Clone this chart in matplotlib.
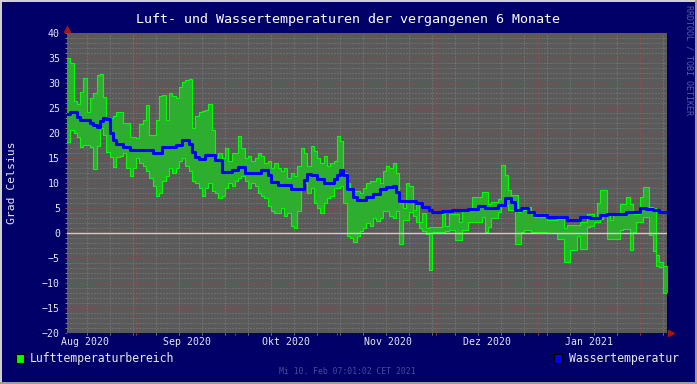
import numpy as np
import matplotlib.pyplot as plt
import matplotlib.dates as mdates
import matplotlib.transforms as mtransforms
from matplotlib.patches import Rectangle
from datetime import datetime, timedelta

# daily values, one per day starting 11 Aug 2020
max_aug = [35, 34, 26.5, 25.8, 28.3, 31, 24.3, 27, 28, 31.6, 31.8, 27.3, 23, 23, 23.4, 24.3, 24.3, 22, 22, 19.2, 19.2]
min_aug = [18.3, 20.7, 20, 19.2, 17.3, 17.6, 17.6, 17.3, 12.8, 17.5, 21, 19.6, 16.3, 15.3, 13.3, 15.3, 15.5, 16, 13, 11.5, 13]
wat_aug = [23.9, 24.2, 24.2, 23.3, 22.6, 22.6, 22.6, 22.1, 21.6, 21.3, 22.5, 23, 22.8, 20, 18.6, 17.9, 17.9, 17.3, 17.3, 16.6, 16.6]

max_sep = [19, 21.8, 22.6, 25.6, 19.6, 19.6, 22.6, 27.5, 27.6, 22.6, 28, 27.5, 27, 29.3, 30.3, 30.6, 30.8, 21, 23.5, 24.3,
           24.5, 24.6, 25.8, 20.6, 15.3, 16, 15, 17, 14.5, 16]
min_sep = [15, 14, 13.5, 12.5, 11, 9.5, 7.5, 8, 10.5, 11.5, 13, 12, 13, 14.5, 15, 13.5, 12.5, 10.5, 10, 9,
           7.5, 9, 10, 8.5, 8, 7, 7.5, 9, 10, 9.5]
wat_sep = [16.6, 16.6, 16.6, 16.6, 16.6, 16, 16, 16, 17.3, 17.3, 17.2, 17.2, 17.6, 17.6, 18.6, 18.6, 17.9, 16.3, 15.3, 14.9,
           14.9, 15.7, 15.7, 15.7, 14.6, 14.6, 12.3, 12.3, 12.3, 12.7]

max_okt = [16, 19.5, 17, 15, 15.5, 14.5, 15, 16, 15.5, 14, 14.5, 13, 14, 13, 12.5, 13, 11, 12, 11.5, 13.5,
           17, 16, 13.5, 17.5, 16.5, 15, 14, 15.5, 13.5, 14, 14.5]
min_okt = [10.5, 11, 11.5, 10.5, 9, 10, 9.5, 8, 7.5, 7, 5.5, 4.5, 4, 4, 5, 3.5, 4, 1.5, 1, 4.5,
           9, 10, 8, 9, 6, 5, 4, 6, 7, 7.5, 9]
wat_okt = [12.7, 13.3, 13.3, 12.1, 12.1, 12, 12, 12, 12.6, 12.6, 11.6, 10.3, 10.3, 9.6, 9.6, 9.6, 9.6, 8.9, 8.9, 8.9,
           8.9, 10.6, 11.9, 11.6, 11.6, 10.9, 10.9, 10.1, 10.1, 10.1, 10.9]

max_nov = [19.5, 18.5, 12, 10, 9, 8.5, 8.5, 8, 9, 10, 10.5, 10.5, 11, 10, 12.5, 13.5, 13, 14, 12, 6,
           5, 10, 9.5, 4.6, 6.3, 2.3, 4, 1.1, 1.2, 1.3]
min_nov = [9, 9.5, 6, -0.5, -1, -1.7, -0.5, 0.5, 1, 2, 1.5, 3, 2.5, 3, 4.5, 4.5, 3.5, 3, 4.5, -2.1,
           2.6, 2.6, 4.3, 3.5, 2.3, 1, 0.5, -0.1, -7.4, 0.3]
wat_nov = [11.6, 12.6, 11.6, 8.9, 8.9, 7.3, 6.6, 6.6, 6.6, 7.3, 7.3, 7.9, 7.9, 8.9, 8.9, 9.3, 9.3, 9.5, 8.3, 6.5,
           6.5, 6.5, 6.5, 6.5, 6.0, 6.0, 5.3, 5.3, 4.7, 4.3]

max_dez = [1.3, 1.3, 3.9, 1.5, 3.9, 3.9, 3.9, 2.3, 4.6, 4.6, 4.6, 7.3, 7.3, 7.3, 8.3, 8.3, 5.9, 6.3, 6.3, 6.8,
           13.6, 11.6, 8.6, 7.6, 7.6, 4.3, 4.6, 4.6, 5.3, 3.9, 3.3]
min_dez = [0.3, 0.3, 0.3, 0.5, 0.6, 0.6, -1.4, -1.4, 0.6, 0.6, 2.3, 2.3, 2.3, 2.3, 3.3, 0.3, 1.3, 3, 3, 4.3,
           5.6, 5.6, 4.6, 4.6, -2.1, -2.1, 0.3, 0.6, 0.6, 0.3, 0.3]
wat_dez = [4.3, 4.3, 4.5, 4.5, 4.5, 4.7, 4.7, 4.7, 4.7, 4.7, 4.9, 4.9, 4.9, 5.4, 5.4, 5.1, 5.1, 5.1, 5.1, 5.6,
           5.6, 7.1, 7.1, 6.3, 4.6, 4.6, 5.1, 5.1, 4.3, 4.3, 3.6]

max_jan = [3.3, 3.3, 3.3, 2.6, 2.6, 2.6, 2.9, 2.9, 1, 1.6, 1.6, 1.6, 1.6, 2.3, 2.3, 3.9, 3.9, 3.3, 6, 8.6,
           8.6, 3.9, 2.6, 3.9, 3.9, 5.9, 5.9, 7.3, 5.9, 3.9, 3.9]
min_jan = [0.3, 0.3, 0.3, 0, 0, 0, -1.1, -1.1, -5.7, -5.7, -3.4, -3.4, -0.6, -3.1, -3.1, 1.3, 1.5, 2.3, 2.3, 2.9,
           3.9, -1.1, -1.1, -1.1, -1.1, 0.6, 0.9, 0.9, -3.4, 0.3, 2.3]
wat_jan = [3.6, 3.6, 3.6, 3.3, 3.3, 3.3, 3.3, 3.3, 3.3, 2.6, 2.6, 2.6, 2.6, 3.3, 3.3, 3.3, 3.0, 3.0, 3.0, 3.6,
           3.6, 3.8, 3.8, 3.9, 3.9, 3.9, 3.9, 4.3, 4.3, 4.3, 4.3]

max_feb = [7.3, 9.3, 9.3, 5.3, 5, -4.4, -5.7, -6.5, -6.5]
min_feb = [2.3, 3.3, 3.3, -0.4, -3.5, -6.5, -6.7, -12, -12]
wat_feb = [5.1, 5.1, 4.9, 4.9, 4.6, 4.6, 4.2, 4.2, 4.2]

month_labels = ["Aug 2020", "Sep 2020", "Okt 2020", "Nov 2020", "Dez 2020", "Jan 2021"]

tmax = np.array(max_aug + max_sep + max_okt + max_nov + max_dez + max_jan + max_feb)
tmin = np.array(min_aug + min_sep + min_okt + min_nov + min_dez + min_jan + min_feb)
twat = np.array(wat_aug + wat_sep + wat_okt + wat_nov + wat_dez + wat_jan + wat_feb)

start = datetime(2020, 8, 11)
edges = [start + timedelta(days=k) for k in range(len(tmax) + 1)]
ymax = np.append(tmax, tmax[-1])
ymin = np.append(tmin, tmin[-1])
ywat = np.append(twat, twat[-1])

navy = '#000068'
txt = '#e8e8f4'
plt.rcParams['font.family'] = 'DejaVu Sans Mono'

fig = plt.figure(figsize=(6.97, 3.84), dpi=100)
fig.patch.set_facecolor(navy)
W, H = 697, 384
ax = fig.add_axes([67 / W, 51 / H, 600 / W, 300 / H])
ax.set_facecolor('#5a5a5a')

ax.fill_between(edges, ymin, ymax, step='post', color='#2eae2e', lw=0, zorder=2)
ax.step(edges, ymax, where='post', color='#00ff00', lw=0.8, zorder=3)
ax.step(edges, ymin, where='post', color='#00ff00', lw=0.8, zorder=3)
ax.axhline(0, color='#dcc8c8', lw=1, zorder=4)
ax.step(edges, ywat, where='post', color='#0000ff', lw=2.2, zorder=5)

ax.set_xlim(start, datetime(2021, 2, 9, 8, 0))
ax.set_ylim(-20, 40)
ax.yaxis.set_major_locator(plt.MultipleLocator(5))
ax.yaxis.set_minor_locator(plt.MultipleLocator(1))
ax.xaxis.set_major_locator(mdates.MonthLocator())
ax.xaxis.set_minor_locator(mdates.WeekdayLocator(byweekday=mdates.MO))
ax.xaxis.set_major_formatter(plt.NullFormatter())
ax.set_axisbelow(True)
ax.grid(which='minor', color='#808080', linestyle=(0, (1, 2)), lw=0.72)
ax.grid(which='major', color='#a44444', linestyle=(0, (1, 2)), lw=0.72)
for s in ax.spines.values():
    s.set_visible(False)
ax.tick_params(which='both', direction='out', length=1.6, width=0.72, labelsize=7.1, labelcolor=txt, pad=3.5)
ax.tick_params(which='major', color='#a44444')
ax.tick_params(which='minor', color='#808080')

# month labels sit in the middle of each month
trans = mtransforms.blended_transform_factory(ax.transData, ax.transAxes)
for k, lab in enumerate(month_labels):
    d = datetime(2020 + (7 + k) // 12, (7 + k) % 12 + 1, 16, 12)
    ax.text(d, -0.014, lab, transform=trans, ha='center', va='top', fontsize=7.1, color=txt)

# little arrows at the axis ends
ax.plot([0], [1.015], marker='^', color='#a01818', ms=4, transform=ax.transAxes, clip_on=False)
ax.plot([1.006], [0], marker='>', color='#a01818', ms=4, transform=ax.transAxes, clip_on=False)

ax.set_ylabel('Grad Celsius', color=txt, fontsize=8.2, labelpad=0)
ax.yaxis.set_label_coords(-50 / 600, 0.5)

fig.text(0.5, 1 - 19 / H, 'Luft- und Wassertemperaturen der vergangenen 6 Monate',
         ha='center', va='center', color='white', fontsize=9.6)
fig.text(689 / W, 1 - 5 / H, 'RRDTOOL / TOBI OETIKER', rotation=270, ha='center', va='top',
         color='#5c5cae', fontsize=6)
fig.text(347 / W, 1 - 372 / H, 'Mi 10. Feb 07:01:02 CET 2021', ha='center', va='center',
         color='#4a4a9e', fontsize=5.9)

# legend
fig.add_artist(Rectangle((16 / W, 1 - 363 / H), 8 / W, 9 / H, transform=fig.transFigure,
                         facecolor='#00ff00', edgecolor='black', lw=0.8))
fig.text(30 / W, 1 - 358.5 / H, 'Lufttemperaturbereich', va='center', color=txt, fontsize=8.3)
fig.add_artist(Rectangle((554 / W, 1 - 363 / H), 8 / W, 9 / H, transform=fig.transFigure,
                         facecolor='#0000ff', edgecolor='black', lw=0.8))
fig.text(569 / W, 1 - 358.5 / H, 'Wassertemperatur', va='center', color=txt, fontsize=8.3)

# 3d-ish frame around the image
fig.add_artist(Rectangle((0, 0), 2 / W, 1, transform=fig.transFigure, color='#d0d0d0', lw=0))
fig.add_artist(Rectangle((0, 1 - 2 / H), 1, 2 / H, transform=fig.transFigure, color='#d0d0d0', lw=0))
fig.add_artist(Rectangle((1 - 2 / W, 0), 2 / W, 1, transform=fig.transFigure, color='#9c9c9c', lw=0))
fig.add_artist(Rectangle((0, 0), 1, 2 / H, transform=fig.transFigure, color='#9c9c9c', lw=0))

fig.savefig('out.png', dpi=100, facecolor=fig.get_facecolor())
